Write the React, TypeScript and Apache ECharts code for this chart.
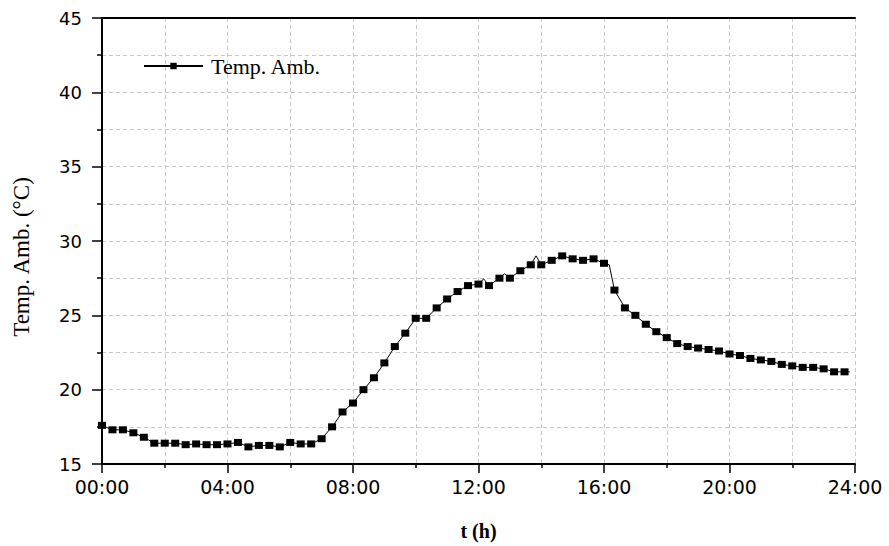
import React, { useEffect, useRef } from "react";
import * as echarts from "echarts";

// Marker points every 20 min (hours) and temperatures (°C)
const markerHours: number[] = Array.from({ length: 72 }, (_, i) => (i * 20) / 60);
const markerTemps: number[] = [
  17.6, 17.3, 17.3, 17.1, 16.8, 16.4, 16.4, 16.4, 16.3, 16.35, 16.3, 16.3,
  16.35, 16.45, 16.15, 16.25, 16.25, 16.15, 16.45, 16.35, 16.35, 16.7, 17.5, 18.5,
  19.1, 20.0, 20.8, 21.8, 22.9, 23.8, 24.8, 24.8, 25.5, 26.1, 26.6, 27.0,
  27.1, 27.0, 27.5, 27.5, 28.0, 28.4, 28.4, 28.7, 29.0, 28.8, 28.7, 28.8,
  28.5, 26.7, 25.5, 25.0, 24.4, 23.9, 23.5, 23.1, 22.9, 22.8, 22.7, 22.6,
  22.4, 22.3, 22.1, 22.0, 21.9, 21.7, 21.6, 21.5, 21.5, 21.4, 21.2, 21.2,
];
// Extra line-only points visible as kinks in the line (no marker)
const lineOnlyHours: number[] = [12 + 10 / 60, 12 + 50 / 60, 13 + 50 / 60, 16 + 10 / 60, 23 + 50 / 60];
const lineOnlyTemps: number[] = [27.45, 27.8, 29.0, 28.4, 21.2];

const xTickLabels = ["00:00", "04:00", "08:00", "12:00", "16:00", "20:00", "24:00"];
const seriesName = "Temp. Amb.";
const yTitle = "Temp. Amb. (°C)";
const xTitle = "t (h)";

export default function App() {
  const ref = useRef<HTMLDivElement>(null);
  useEffect(() => {
    if (!ref.current) return;
    const chart = echarts.init(ref.current, undefined, { renderer: "svg" });
    const pts: any[] = [];
    markerHours.forEach((h, i) => pts.push({ value: [h, markerTemps[i]] }));
    lineOnlyHours.forEach((h, i) =>
      pts.push({ value: [h, lineOnlyTemps[i]], symbol: "none" })
    );
    pts.sort((a, b) => a.value[0] - b.value[0]);

    const dash = { color: "#c8c8c8", width: 1, type: [4, 3] as any };
    const frame = { show: true, lineStyle: { color: "#000", width: 2 } };
    chart.setOption({
      animation: false,
      backgroundColor: "#fff",
      grid: {
        left: 102,
        right: 34,
        top: 18,
        bottom: 75,
      },
      legend: {
        left: 143,
        top: 55,
        padding: 0,
        itemWidth: 59,
        itemHeight: 8,
        textStyle: {
          fontFamily: "Liberation Serif",
          fontSize: 22,
          color: "#000",
          padding: [0, 0, 0, 3],
        },
        data: [seriesName],
      },
      xAxis: [
        {
          type: "value",
          min: 0,
          max: 24,
          interval: 4,
          name: xTitle,
          nameLocation: "middle",
          nameGap: 57,
          nameTextStyle: {
            fontFamily: "Liberation Serif",
            fontSize: 20,
            fontWeight: "bold",
            color: "#000",
          },
          axisLine: frame,
          axisTick: { show: true, length: 9, lineStyle: { color: "#000", width: 1.5 } },
          minorTick: { show: true, splitNumber: 2, length: 4, lineStyle: { color: "#000", width: 1.5 } },
          axisLabel: {
            margin: 13,
            fontFamily: "DejaVu Sans",
            fontSize: 19,
            color: "#000",
            formatter: (v: number) => xTickLabels[Math.round(v / 4)] ?? "",
          },
          splitLine: { show: true, lineStyle: dash },
          minorSplitLine: { show: true, lineStyle: dash },
          z: 1,
        },
        {
          type: "value",
          position: "top",
          min: 0,
          max: 24,
          interval: 4,
          axisLine: frame,
          axisTick: { show: false },
          axisLabel: { show: false },
          splitLine: { show: false },
          z: 3,
        },
      ],
      yAxis: [
        {
          type: "value",
          min: 15,
          max: 45,
          interval: 5,
          axisLine: frame,
          axisTick: { show: true, length: 10, lineStyle: { color: "#000", width: 1.5 } },
          minorTick: { show: true, splitNumber: 2, length: 5, lineStyle: { color: "#000", width: 1.5 } },
          axisLabel: {
            margin: 20,
            fontFamily: "DejaVu Sans",
            fontSize: 18,
            color: "#000",
          },
          splitLine: { show: true, lineStyle: dash },
          minorSplitLine: { show: true, lineStyle: dash },
        },
        {
          type: "value",
          position: "right",
          min: 15,
          max: 45,
          interval: 5,
          axisLine: frame,
          axisTick: { show: false },
          axisLabel: { show: false },
          splitLine: { show: false },
          z: 3,
        },
      ],
      graphic: [
        {
          type: "text",
          x: 21,
          y: 257,
          rotation: Math.PI / 2,
          style: {
            text: yTitle,
            fontFamily: "Liberation Serif",
            fontSize: 23,
            fill: "#000",
            align: "center",
            verticalAlign: "middle",
          },
        },
      ],
      series: [
        {
          name: seriesName,
          type: "line",
          xAxisIndex: 0,
          yAxisIndex: 0,
          data: pts,
          symbol: "rect",
          symbolSize: [8, 7],
          showAllSymbol: true,
          itemStyle: { color: "#000" },
          lineStyle: { color: "#000", width: 1 },
        },
      ],
    });
    return () => chart.dispose();
  }, []);
  return (
    <div
      ref={ref}
      style={{ position: "fixed", left: 0, top: 0, width: 889, height: 546 }}
    />
  );
}
